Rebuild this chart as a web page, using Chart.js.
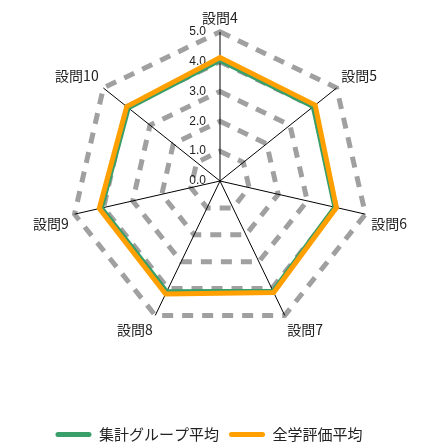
<!DOCTYPE html>
<html>
<head>
  <meta charset="UTF-8">
  <title>設問別平均</title>
  <script src="https://cdn.jsdelivr.net/npm/chart.js"></script>
  <style>
    html, body {
      margin: 0;
      padding: 0;
      background: #fff;
    }
    .chart-box {
      width: 430px;
      height: 445px;
    }
  </style>
</head>
<body>
  <div class="chart-box">
    <canvas id="radarChart"></canvas>
  </div>

  <script>
    // Data
    const questions = ['設問4', '設問5', '設問6', '設問7', '設問8', '設問9', '設問10'];
    const groupAvg = [4.05, 4.0, 3.95, 4.1, 4.12, 4.08, 3.93];
    const allAvg = [4.14, 4.08, 4.0, 4.15, 4.2, 4.15, 4.0];
    const tickLabels = ['0.0', '1.0', '2.0', '3.0', '4.0', '5.0'];

    const green = 'rgb(56, 158, 106)';
    const orange = 'rgb(255, 160, 0)';

    // Tick labels sit just left of the vertical axis, right aligned
    const tickLabelPlugin = {
      id: 'tickLabels',
      beforeDatasetsDraw(chart) {
        const scale = chart.scales.r;
        const ctx = chart.ctx;
        ctx.save();
        ctx.font = '12px "Liberation Sans", Arial, sans-serif';
        ctx.fillStyle = '#222';
        ctx.textAlign = 'right';
        ctx.textBaseline = 'middle';
        tickLabels.forEach(function(label) {
          const v = parseFloat(label);
          const d = scale.getDistanceFromCenterForValue(v);
          ctx.fillText(label, scale.xCenter - 14, scale.yCenter - d);
        });
        ctx.restore();
      }
    };

    // nudge the legend a bit left and down, like in the original
    const legendShift = {
      id: 'legendShift',
      afterLayout(chart) {
        const lg = chart.legend;
        lg.left -= 12;
        lg.right -= 12;
        lg.top += 7;
        lg.bottom += 7;
      }
    };

    const ctx = document.getElementById('radarChart').getContext('2d');
    new Chart(ctx, {
      type: 'radar',
      data: {
        labels: questions,
        datasets: [
          {
            label: '集計グループ平均',
            data: groupAvg,
            borderColor: green,
            backgroundColor: green,
            borderWidth: 5,
            fill: false,
            pointRadius: 0,
            order: 1
          },
          {
            label: '全学評価平均',
            data: allAvg,
            borderColor: orange,
            backgroundColor: orange,
            borderWidth: 5,
            fill: false,
            pointRadius: 0,
            order: 0
          }
        ]
      },
      options: {
        responsive: true,
        maintainAspectRatio: false,
        animation: false,
        layout: {
          padding: { top: 0, bottom: 0, left: 13, right: 1 }
        },
        scales: {
          r: {
            min: 0,
            max: 5,
            ticks: {
              stepSize: 1,
              display: false
            },
            grid: {
              color: 'rgb(160, 160, 160)',
              lineWidth: 5
            },
            border: {
              dash: [11, 9]
            },
            angleLines: {
              color: '#000',
              lineWidth: 1
            },
            pointLabels: {
              color: '#222',
              padding: 6,
              font: { family: '"Noto Sans CJK JP", sans-serif', size: 14 }
            }
          }
        },
        plugins: {
          legend: {
            position: 'bottom',
            title: {
              display: true,
              text: ' ',
              padding: { top: 0, bottom: 50 }
            },
            labels: {
              boxWidth: 36,
              boxHeight: 5,
              useBorderRadius: true,
              borderRadius: 2.5,
              color: '#222',
              font: { family: '"Noto Sans CJK JP", sans-serif', size: 15 },
              sort: function(a, b) { return a.datasetIndex - b.datasetIndex; },
              generateLabels: function(chart) {
                const items = Chart.defaults.plugins.legend.labels.generateLabels(chart);
                items.forEach(function(item) { item.lineWidth = 0; });
                return items;
              }
            }
          },
          tooltip: { enabled: false }
        }
      },
      plugins: [tickLabelPlugin, legendShift]
    });
  </script>
</body>
</html>
